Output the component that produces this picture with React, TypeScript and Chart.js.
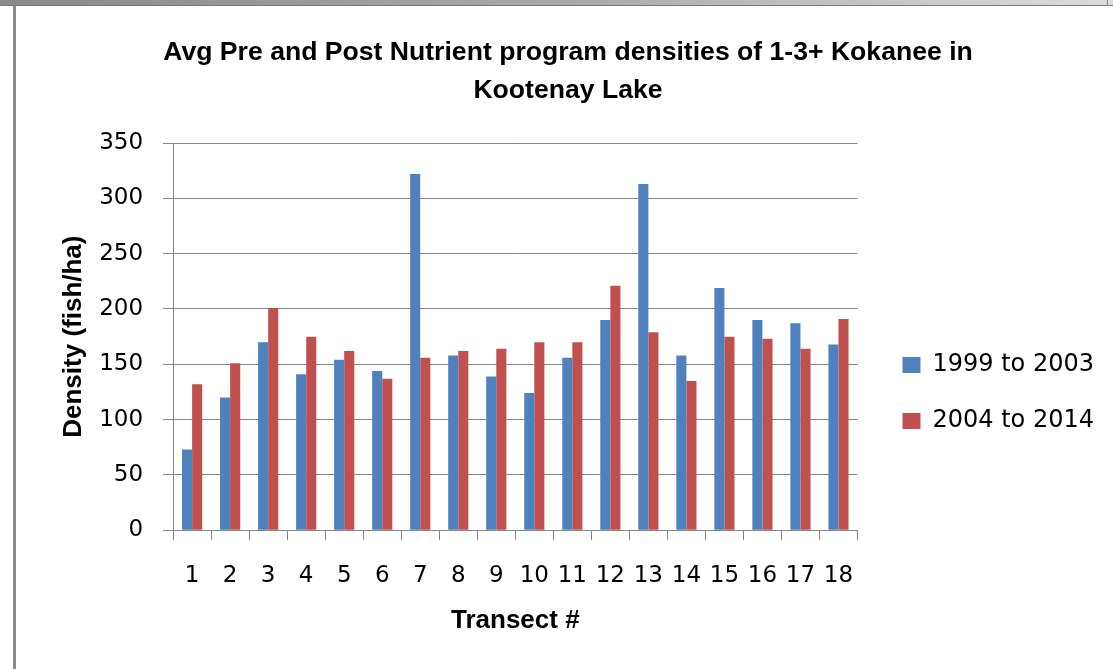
import React, { useEffect, useRef } from 'react';
import { Chart, registerables } from 'chart.js';

Chart.register(...registerables);

// ---- data ----
const categories = ['1', '2', '3', '4', '5', '6', '7', '8', '9', '10', '11', '12', '13', '14', '15', '16', '17', '18'];
const pre1999to2003 = [73, 120, 170, 141, 154, 144, 322, 158, 139, 124, 156, 190, 313, 158, 219, 190, 187, 168];
const post2004to2014 = [132, 151, 201, 175, 162, 137, 156, 162, 164, 170, 170, 221, 179, 135, 175, 173, 164, 191];
const seriesLabels = ['1999 to 2003', '2004 to 2014'];
const seriesColors = ['#4F81BD', '#C0504D'];
const titleLines = ['Avg Pre and Post Nutrient program densities of 1-3+ Kokanee in', 'Kootenay Lake'];
const yAxisTitle = 'Density (fish/ha)';
const xAxisTitle = 'Transect #';
const yMin = 0;
const yMax = 350;
const yStep = 50;

const TITLE_FONT = "'Liberation Sans', Arial, sans-serif";
const TICK_FONT = "'DejaVu Sans', Verdana, sans-serif";
const GRID = '#868686';

// moves the built-in legend a little further from the plot area and lower
const legendNudge = {
  id: 'legendNudge',
  afterLayout(chart: any) {
    const lg = chart.legend;
    if (!lg) return;
    lg.left += 13;
    lg.right += 13;
    lg.top += 72;
    lg.bottom += 72;
  },
};

export default function App() {
  const canvasRef = useRef<HTMLCanvasElement | null>(null);

  useEffect(() => {
    if (!canvasRef.current) return;
    const chart = new Chart(canvasRef.current, {
      type: 'bar',
      data: {
        labels: categories,
        datasets: [
          {
            label: seriesLabels[0],
            data: pre1999to2003,
            backgroundColor: seriesColors[0],
            categoryPercentage: 0.53,
            barPercentage: 1.0,
          },
          {
            label: seriesLabels[1],
            data: post2004to2014,
            backgroundColor: seriesColors[1],
            categoryPercentage: 0.53,
            barPercentage: 1.0,
          },
        ],
      },
      options: {
        responsive: false,
        animation: false,
        devicePixelRatio: 1,
        layout: { padding: { left: 29, right: 22, top: 0, bottom: 33 } },
        plugins: {
          legend: {
            display: true,
            position: 'right',
            align: 'center',
            labels: {
              boxWidth: 18,
              boxHeight: 16,
              padding: 32,
              color: '#000',
              font: { family: TICK_FONT, size: 24 },
            },
          },
          tooltip: { enabled: false },
          title: {
            display: true,
            text: titleLines,
            color: '#000',
            font: { family: TITLE_FONT, size: 26.6, weight: 'bold', lineHeight: 1.43 },
            padding: { top: 28, bottom: 33 },
          },
        },
        scales: {
          x: {
            grid: {
              display: true,
              drawOnChartArea: false,
              drawTicks: true,
              tickLength: 10,
              color: GRID,
              offset: true,
            },
            border: { display: true, color: GRID, width: 1 },
            ticks: {
              color: '#000',
              font: { family: TICK_FONT, size: 23 },
              padding: 22,
              maxRotation: 0,
              autoSkip: false,
            },
            title: {
              display: true,
              text: xAxisTitle,
              color: '#000',
              font: { family: TITLE_FONT, size: 26, weight: 'bold', lineHeight: 1.2 },
              padding: { top: -7, bottom: 0 },
            },
          },
          y: {
            min: yMin,
            max: yMax,
            grid: {
              color: GRID,
              drawTicks: true,
              tickLength: 10,
              lineWidth: 1,
            },
            border: { display: true, color: GRID, width: 1 },
            ticks: {
              stepSize: yStep,
              color: '#000',
              font: { family: TICK_FONT, size: 23 },
              padding: 20,
            },
            title: {
              display: true,
              text: yAxisTitle,
              color: '#000',
              font: { family: TITLE_FONT, size: 26, weight: 'bold', lineHeight: 1.2 },
              padding: { top: 13, bottom: -10 },
            },
          },
        },
      },
      plugins: [legendNudge],
    });
    return () => chart.destroy();
  }, []);

  return (
    <div style={{ position: 'absolute', left: 0, top: 0, width: 1113, height: 669, background: '#fff', overflow: 'hidden' }}>
      <div
        style={{
          position: 'absolute',
          left: 0,
          top: 0,
          width: 1113,
          height: 6,
          background: 'linear-gradient(to right, #8a8a8a 0%, #a8a8a8 50%, #dcdcdc 100%)',
          borderBottom: '1px solid #7a7a7a',
          boxSizing: 'border-box',
        }}
      />
      <div style={{ position: 'absolute', left: 13, top: 6, width: 3, height: 663, background: '#8a8a8a' }} />
      <div style={{ position: 'absolute', left: 1107, top: 0, width: 1, height: 6, background: '#8a8a8a' }} />
      <canvas
        ref={canvasRef}
        width={1097}
        height={663}
        style={{ position: 'absolute', left: 16, top: 6, width: 1097, height: 663 }}
      />
    </div>
  );
}
